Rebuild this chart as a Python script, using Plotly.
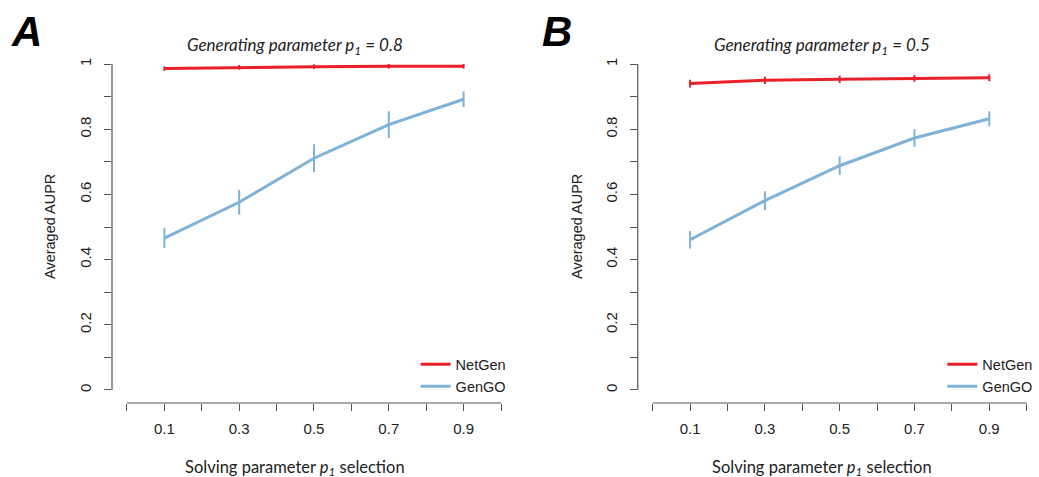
import plotly.graph_objects as go

# Solving parameter values (x positions)
p1_solving = [0.1, 0.3, 0.5, 0.7, 0.9]

# Panel A: generating parameter p1 = 0.8
netgen_a = [0.986, 0.990, 0.992, 0.993, 0.993]
netgen_a_err = [0.007, 0.007, 0.007, 0.007, 0.007]
gengo_a = [0.466, 0.576, 0.711, 0.814, 0.892]
gengo_a_err = [0.031, 0.038, 0.043, 0.041, 0.024]

# Panel B: generating parameter p1 = 0.5
netgen_b = [0.940, 0.950, 0.953, 0.956, 0.958]
netgen_b_err = [0.012, 0.011, 0.011, 0.010, 0.011]
gengo_b = [0.461, 0.581, 0.688, 0.773, 0.832]
gengo_b_err = [0.027, 0.029, 0.028, 0.027, 0.023]

# Labelled axis ticks (unlabelled ticks every 0.1 are drawn as minor ticks)
x_tickvals = [0.1, 0.3, 0.5, 0.7, 0.9]
x_ticktext = ["0.1", "0.3", "0.5", "0.7", "0.9"]
y_tickvals = [0, 0.2, 0.4, 0.6, 0.8, 1.0]
y_ticktext = ["0", "0.2", "0.4", "0.6", "0.8", "1"]

RED = "#e8202a"
BLUE = "#7fb2d6"
AXIS = "#555555"
TEXT = "#222222"
SANS = "Liberation Sans, Arial, sans-serif"

fig = go.Figure()


def add_series(xa, ya, y, err, color, name, legend):
    fig.add_trace(go.Scatter(
        x=p1_solving, y=y, mode="lines", name=name,
        line=dict(color=color, width=3),
        error_y=dict(type="data", array=err, visible=True,
                     width=0, thickness=2, color=color),
        xaxis=xa, yaxis=ya, legend=legend, showlegend=True,
    ))


add_series("x", "y", netgen_a, netgen_a_err, RED, "NetGen", "legend")
add_series("x", "y", gengo_a, gengo_a_err, BLUE, "GenGO", "legend")
add_series("x2", "y2", netgen_b, netgen_b_err, RED, "NetGen", "legend2")
add_series("x2", "y2", gengo_b, gengo_b_err, BLUE, "GenGO", "legend2")

tick_font = dict(family=SANS, size=15, color=TEXT)
minor_ticks = dict(ticks="outside", ticklen=7, tickwidth=1.2, tickcolor=AXIS,
                   tick0=0, dtick=0.1, showgrid=False)

xaxis_common = dict(
    tickvals=x_tickvals, ticktext=x_ticktext, ticks="outside", ticklen=7,
    tickwidth=1.2, tickcolor=AXIS, showline=False, showgrid=False,
    zeroline=False, tickfont=tick_font, ticklabelstandoff=5, minor=minor_ticks,
)
yaxis_common = dict(
    tickvals=y_tickvals, ticktext=y_ticktext, ticks="outside", ticklen=7,
    tickwidth=1.2, tickcolor=AXIS, showline=False, showgrid=False,
    zeroline=False, tickfont=tick_font, tickangle=-90, ticklabelstandoff=7,
    range=[-0.04, 1.04], domain=[0.1551, 0.8931], minor=minor_ticks,
)

legend_common = dict(
    xanchor="left", yanchor="middle",
    font=dict(family=SANS, size=14.5, color=TEXT),
    bgcolor="rgba(0,0,0,0)", tracegroupgap=0, itemwidth=30,
)

fig.update_layout(
    width=1039, height=477,
    margin=dict(l=0, r=0, t=0, b=0),
    paper_bgcolor="white", plot_bgcolor="white",
    xaxis=dict(xaxis_common, domain=[0.1078, 0.4966], range=[-0.04, 1.04], anchor="y"),
    yaxis=dict(yaxis_common, anchor="x"),
    xaxis2=dict(xaxis_common, domain=[0.6138, 1.0], range=[-0.04, 1.033], anchor="y2"),
    yaxis2=dict(yaxis_common, anchor="x2"),
    legend=dict(legend_common, x=0.400, y=0.213),
    legend2=dict(legend_common, x=0.907, y=0.213),
)

# Detached axis lines spanning the data range only
for xr, yr in (("x", "y"), ("x2", "y2")):
    fig.add_shape(type="line", xref=f"{xr} domain", yref=yr, x0=0, x1=0, y0=0, y1=1,
                  line=dict(color=AXIS, width=1.2))
    fig.add_shape(type="line", xref=xr, yref=f"{yr} domain", x0=0, x1=1, y0=0, y1=0,
                  line=dict(color=AXIS, width=1.2))

title_font = dict(family="Lato, Open Sans, sans-serif", size=17, color=TEXT)
xtitle_font = dict(family="Lato, Open Sans, sans-serif", size=16.5, color=TEXT)
axis_title_font = dict(family=SANS, size=14.5, color=TEXT)

panels = [
    ("A", 9, 295, "0.8"),
    ("B", 540, 822, "0.5"),
]
for letter, lx, cx, gen in panels:
    fig.add_annotation(text=f"<b><i>{letter}</i></b>", xref="paper", yref="paper",
                       x=lx / 1039, y=1 - 31 / 477, xanchor="left", yanchor="middle",
                       showarrow=False,
                       font=dict(family=SANS, size=42, color="black"))
    fig.add_annotation(text=f"<i>Generating parameter p<sub>1</sub> = {gen}</i>",
                       xref="paper", yref="paper", x=cx / 1039, y=1 - 46 / 477,
                       xanchor="center", yanchor="middle", showarrow=False, font=title_font)
    fig.add_annotation(text="Solving parameter <i>p<sub>1</sub></i> selection",
                       xref="paper", yref="paper", x=cx / 1039, y=1 - 467 / 477,
                       xanchor="center", yanchor="middle", showarrow=False, font=xtitle_font)

for ax_x in (50, 577):
    fig.add_annotation(text="Averaged AUPR", xref="paper", yref="paper",
                       x=ax_x / 1039, y=1 - 227 / 477, textangle=-90,
                       xanchor="center", yanchor="middle", showarrow=False,
                       font=axis_title_font)

fig.write_html("out.html")
